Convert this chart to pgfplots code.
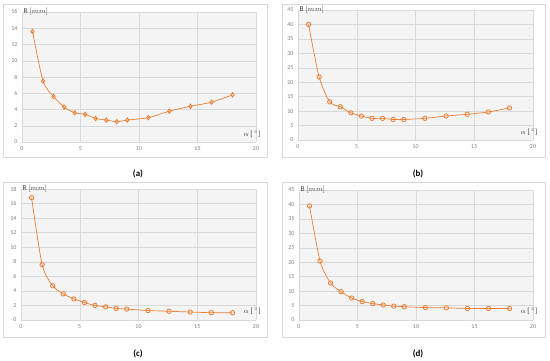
\documentclass[border=0pt]{standalone}
\usepackage{pgfplots}
\pgfplotsset{compat=1.18}
\usepackage{fontspec}
\setmainfont{Carlito}
\definecolor{xlorange}{HTML}{ED7D31}
\definecolor{ticktxt}{HTML}{7F7F7F}
\definecolor{gridc}{HTML}{D9D9D9}
\definecolor{bgc}{HTML}{F4F4F4}
\definecolor{framec}{HTML}{D9D9D9}
\definecolor{labc}{HTML}{404040}
\tikzset{lab/.style={font=\fontsize{7.5}{8}\selectfont, text=labc, inner sep=0pt}}
\pgfplotsset{
  panel/.style={
    scale only axis, width=234bp, height=130bp,
    anchor=south west,
    xmin=0, xmax=20, ymin=0,
    xtick={0,5,10,15,20},
    grid=major, major grid style={gridc, line width=0.5pt},
    axis line style={draw=none},
    tick style={draw=none},
    axis background/.style={fill=bgc},
    ticklabel style={font=\fontsize{6}{7}\selectfont, text=ticktxt},
    /pgf/number format/assume math mode=true,
    xticklabel style={yshift=-1bp},
    yticklabel style={xshift=-1bp},
    clip=false,
  },
  ser/.style={xlorange, line width=0.7pt, smooth, tension=0.45,
    mark=#1, mark size=2.2bp, mark options={solid, fill=white, draw=xlorange, line width=0.8pt}},
}
\begin{document}
\begin{tikzpicture}
\useasboundingbox (0bp,0bp) rectangle (550bp,-361bp);
\fill[white] (0bp,0bp) rectangle (550bp,-361bp);
% frames
\draw[framec, line width=0.6pt] (3bp,-4bp) rectangle (267bp,-157bp);
\draw[framec, line width=0.6pt] (282bp,-4bp) rectangle (545bp,-157bp);
\draw[framec, line width=0.6pt] (3bp,-182bp) rectangle (267bp,-337bp);
\draw[framec, line width=0.6pt] (282bp,-182bp) rectangle (545bp,-337bp);

% (a)
\begin{axis}[panel, at={(22bp,-142bp)}, ymax=16, ytick={0,2,...,16}]
\addplot[ser=diamond] coordinates {(0.9,13.6)(1.8,7.5)(2.7,5.6)(3.6,4.3)(4.5,3.6)(5.4,3.4)(6.3,2.9)(7.2,2.7)(8.1,2.5)(9.0,2.7)(10.8,3.0)(12.6,3.8)(14.4,4.4)(16.2,4.9)(18.0,5.8)};
\node[lab, anchor=west] at (rel axis cs:0,1) {\hspace{1.5bp}R $[mm]$};
\node[lab, anchor=east] at (rel axis cs:1.02,0.06) {$\alpha$ [\,$^{\circ}$]};
\end{axis}

% (b)
\begin{axis}[panel, at={(298bp,-140bp)}, width=235bp, ymax=45, ytick={0,5,...,45}]
\addplot[ser=o] coordinates {(0.9,40.0)(1.8,21.8)(2.7,13.2)(3.6,11.5)(4.5,9.4)(5.4,8.3)(6.3,7.5)(7.2,7.5)(8.1,7.1)(9.0,7.1)(10.8,7.5)(12.6,8.3)(14.4,8.9)(16.2,9.7)(18.0,11.1)};
\node[lab, anchor=west] at (rel axis cs:0,1) {\hspace{1.5bp}B $[mm]$};
\node[lab, anchor=east] at (rel axis cs:1.02,0.06) {$\alpha$ [\,$^{\circ}$]};
\end{axis}

% (c)
\begin{axis}[panel, at={(21bp,-320bp)}, width=235bp, height=131bp, ymax=18, ytick={0,2,...,18}]
\addplot[ser=o] coordinates {(0.9,16.8)(1.8,7.6)(2.7,4.7)(3.6,3.6)(4.5,2.9)(5.4,2.4)(6.3,2.0)(7.2,1.8)(8.1,1.6)(9.0,1.5)(10.8,1.3)(12.6,1.2)(14.4,1.1)(16.2,1.0)(18.0,1.0)};
\node[lab, anchor=west] at (rel axis cs:0,1) {\hspace{1.5bp}R $[mm]$};
\node[lab, anchor=east] at (rel axis cs:1.02,0.07) {$\alpha$ [\,$^{\circ}$]};
\end{axis}

% (d)
\begin{axis}[panel, at={(299bp,-320bp)}, ymax=45, ytick={0,5,...,45}]
\addplot[ser=o] coordinates {(0.9,39.5)(1.8,20.4)(2.7,12.8)(3.6,9.8)(4.5,7.6)(5.4,6.4)(6.3,5.7)(7.2,5.2)(8.1,4.8)(9.0,4.6)(10.8,4.3)(12.6,4.2)(14.4,4.0)(16.2,4.0)(18.0,4.0)};
\node[lab, anchor=west] at (rel axis cs:0,1) {\hspace{1.5bp}B $[mm]$};
\node[lab, anchor=east] at (rel axis cs:1.02,0.07) {$\alpha$ [\,$^{\circ}$]};
\end{axis}

% captions
\node[font=\fontsize{9}{10}\selectfont\bfseries] at (138bp,-174bp) {(a)};
\node[font=\fontsize{9}{10}\selectfont\bfseries] at (418bp,-174bp) {(b)};
\node[font=\fontsize{9}{10}\selectfont\bfseries] at (138bp,-354bp) {(c)};
\node[font=\fontsize{9}{10}\selectfont\bfseries] at (418bp,-354bp) {(d)};
\end{tikzpicture}
\end{document}
